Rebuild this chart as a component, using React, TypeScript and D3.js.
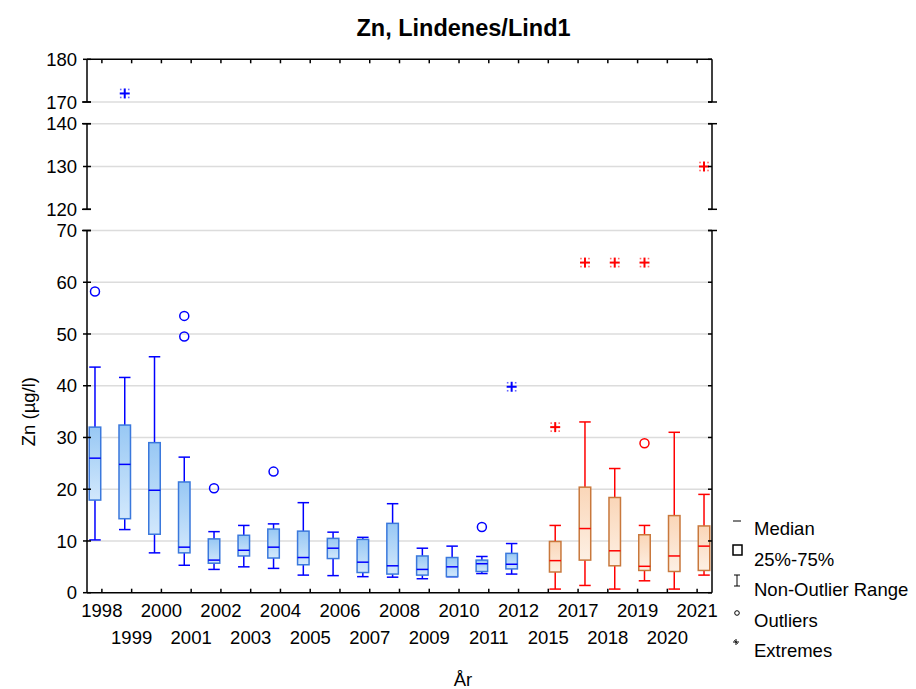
import React from 'react';
import * as d3 from 'd3';

const years = ['1998', '1999', '2000', '2001', '2002', '2003', '2004', '2005', '2006', '2007', '2008', '2009', '2010', '2011', '2012', '2015', '2017', '2018', '2019', '2020', '2021'];
// 'b' = blue series (left slot), 'r' = red series (right slot)
const groups = ['b', 'b', 'b', 'b', 'b', 'b', 'b', 'b', 'b', 'b', 'b', 'b', 'b', 'b', 'b', 'r', 'r', 'r', 'r', 'r', 'r'];
const whiskerLow = [10.2, 12.2, 7.7, 5.3, 4.5, 5.0, 4.7, 3.4, 3.3, 3.1, 3.0, 2.7, 3.1, 3.7, 3.6, 0.7, 1.4, 0.7, 2.3, 0.7, 3.4];
const q1 = [17.9, 14.3, 11.3, 7.7, 5.7, 7.1, 6.7, 5.4, 6.6, 3.9, 3.6, 3.4, 3.1, 4.1, 4.6, 4.0, 6.3, 5.2, 4.3, 4.1, 4.3];
const median = [26.0, 24.8, 19.8, 8.8, 6.3, 8.2, 8.8, 6.8, 8.6, 5.9, 5.2, 4.5, 5.0, 5.6, 5.5, 6.2, 12.4, 8.1, 5.1, 7.1, 9.0];
const q3 = [32.0, 32.4, 29.0, 21.4, 10.4, 11.1, 12.3, 11.9, 10.5, 10.3, 13.4, 7.1, 6.8, 6.3, 7.6, 9.9, 20.4, 18.4, 11.2, 14.9, 12.9];
const whiskerHigh = [43.6, 41.6, 45.6, 26.2, 11.8, 13.0, 13.3, 17.4, 11.7, 10.7, 17.2, 8.6, 9.0, 7.0, 9.5, 13.0, 33.0, 24.0, 13.0, 31.0, 19.0];
const outliers: number[][] = [[58.2], [], [], [53.5, 49.5], [20.2], [], [23.4], [], [], [], [], [], [], [12.7], [], [], [], [], [28.9], [], []];
const extremes: number[][] = [[], [172], [], [], [], [], [], [], [], [], [], [], [], [], [39.8], [32], [63.8], [63.8], [63.8], [], [130]];

const topTicks = [170, 180];
const midTicks = [120, 130, 140];
const botTicks = [0, 10, 20, 30, 40, 50, 60, 70];
const gridValues = [170, 140, 130, 70, 60, 50, 40, 30, 20, 10];
const legendItems = ['Median', '25%-75%', 'Non-Outlier Range', 'Outliers', 'Extremes'];

const W = 916;
const H = 689;
const left = 87;
const right = 712;
const top = 59.3;
const bottom = 592.7;

const yTop = d3.scaleLinear().domain([170, 180]).range([102, top]);
const yMid = d3.scaleLinear().domain([120, 140]).range([209.3, 123.7]);
const yBot = d3.scaleLinear().domain([0, 70]).range([bottom, 230.5]);
const y = (v: number) => (v >= 165 ? yTop(v) : v >= 100 ? yMid(v) : yBot(v));

const x = d3.scaleBand<string>().domain(years).range([left, right]).padding(0);
const cx = (yr: string) => (x(yr) as number) + x.bandwidth() / 2;

const colors = {
  b: { line: '#0000ff', edge: '#3a78dc', g1: '#98c8f4', g2: '#d2e8fc', median: '#0000ff' },
  r: { line: '#ff0000', edge: '#c8783c', g1: '#fad6b8', g2: '#fdf0e4', median: '#ff0000' },
};

const font = '"Liberation Sans", Arial, sans-serif';
const fs = 18.5;

const Star = ({ px, py, color }: { px: number; py: number; color: string }) => (
  <g>
    <line x1={px - 5} x2={px + 5} y1={py} y2={py} stroke={color} strokeWidth={2} />
    <line x1={px} x2={px} y1={py - 5} y2={py + 5} stroke={color} strokeWidth={2} />
    {[[-1, -1], [1, -1], [-1, 1], [1, 1]].map(([dx, dy], i) => (
      <rect key={i} x={px + dx * 4 - 0.8} y={py + dy * 4 - 0.8} width={1.6} height={1.6} fill={color} opacity={0.6} />
    ))}
  </g>
);

export default function App() {
  const boxW = 11.5;
  const off = 6.9;
  const segments: [number, number][] = [[yTop(180), yTop(170)], [yMid(140), yMid(120)], [yBot(70), yBot(0)]];
  const caps = [yTop(170), yMid(140), yMid(120), yBot(70)];

  return (
    <svg width={W} height={H} style={{ position: 'absolute', left: 0, top: 0 }} fontFamily={font}>
      <defs>
        {(['b', 'r'] as const).map((k) => (
          <linearGradient key={k} id={`grad-${k}`} x1="0" y1="0" x2="0" y2="1">
            <stop offset="0%" stopColor={colors[k].g1} />
            <stop offset="100%" stopColor={colors[k].g2} />
          </linearGradient>
        ))}
      </defs>
      <rect width={W} height={H} fill="#fff" />

      {/* grid */}
      {gridValues.map((v) => (
        <line key={v} x1={left} x2={right} y1={y(v)} y2={y(v)} stroke="#dcdcdc" strokeWidth={1.5} />
      ))}

      {/* boxes */}
      {years.map((yr, i) => {
        const g = groups[i] as 'b' | 'r';
        const c = colors[g];
        const px = cx(yr) + (g === 'b' ? -off : off);
        return (
          <g key={yr}>
            <line x1={px} x2={px} y1={y(whiskerHigh[i])} y2={y(q3[i])} stroke={c.line} strokeWidth={1.5} />
            <line x1={px} x2={px} y1={y(q1[i])} y2={y(whiskerLow[i])} stroke={c.line} strokeWidth={1.5} />
            <line x1={px - boxW / 2} x2={px + boxW / 2} y1={y(whiskerHigh[i])} y2={y(whiskerHigh[i])} stroke={c.line} strokeWidth={1.5} />
            <line x1={px - boxW / 2} x2={px + boxW / 2} y1={y(whiskerLow[i])} y2={y(whiskerLow[i])} stroke={c.line} strokeWidth={1.5} />
            <rect x={px - boxW / 2} y={y(q3[i])} width={boxW} height={y(q1[i]) - y(q3[i])} fill={`url(#grad-${g})`} stroke={c.edge} strokeWidth={1.5} />
            <line x1={px - boxW / 2} x2={px + boxW / 2} y1={y(median[i])} y2={y(median[i])} stroke={c.median} strokeWidth={1.5} />
            {outliers[i].map((v, j) => (
              <circle key={j} cx={px} cy={y(v)} r={4.5} fill="none" stroke={c.line} strokeWidth={1.5} />
            ))}
            {extremes[i].map((v, j) => (
              <Star key={j} px={px} py={y(v)} color={c.line} />
            ))}
          </g>
        );
      })}

      {/* frame */}
      <line x1={left} x2={right} y1={top} y2={top} stroke="#000" strokeWidth={1.5} />
      <line x1={left} x2={right} y1={bottom} y2={bottom} stroke="#000" strokeWidth={1.5} />
      {segments.map(([a, b], i) => (
        <g key={i}>
          <line x1={left} x2={left} y1={a} y2={b} stroke="#000" strokeWidth={1.5} />
          <line x1={right} x2={right} y1={a} y2={b} stroke="#000" strokeWidth={1.5} />
        </g>
      ))}
      {caps.map((cy, i) => (
        <g key={i}>
          <line x1={left - 5} x2={left + 4} y1={cy} y2={cy} stroke="#000" strokeWidth={1.5} />
          <line x1={right - 4} x2={right + 5} y1={cy} y2={cy} stroke="#000" strokeWidth={1.5} />
        </g>
      ))}
      {[...topTicks, ...midTicks, ...botTicks].map((v) => (
        <g key={v}>
          <line x1={left - 4} x2={left + 4} y1={y(v)} y2={y(v)} stroke="#000" strokeWidth={1.5} />
          <line x1={right - 4} x2={right} y1={y(v)} y2={y(v)} stroke="#000" strokeWidth={1.5} />
          <text x={left - 10} y={y(v)} dy="0.36em" textAnchor="end" fontSize={fs}>{v}</text>
        </g>
      ))}
      {years.map((yr, i) => (
        <g key={yr}>
          <line x1={cx(yr)} x2={cx(yr)} y1={top} y2={top + 4} stroke="#000" strokeWidth={1.5} />
          <line x1={cx(yr)} x2={cx(yr)} y1={bottom} y2={bottom - 4} stroke="#000" strokeWidth={1.5} />
          <text x={cx(yr)} y={i % 2 === 0 ? 617 : 644} textAnchor="middle" fontSize={fs}>{yr}</text>
        </g>
      ))}

      {/* titles */}
      <text x={463.5} y={36} textAnchor="middle" fontSize={23.5} fontWeight="bold">Zn, Lindenes/Lind1</text>
      <text x={463} y={686} textAnchor="middle" fontSize={fs}>År</text>
      <text transform={`translate(35,${(yBot(0) + yBot(70)) / 2}) rotate(-90)`} textAnchor="middle" fontSize={fs}>Zn (µg/l)</text>

      {/* legend */}
      {legendItems.map((t, i) => (
        <text key={t} x={754} y={535 + i * 30.5} fontSize={fs}>{t}</text>
      ))}
      <line x1={733} x2={741} y1={521} y2={521} stroke="#000" strokeWidth={1} />
      <rect x={733} y={545} width={9} height={10} fill="none" stroke="#000" strokeWidth={1.5} />
      <line x1={737} x2={737} y1={575} y2={586} stroke="#000" strokeWidth={1} />
      <line x1={734} x2={740} y1={575} y2={575} stroke="#000" strokeWidth={1} />
      <line x1={734} x2={740} y1={586} y2={586} stroke="#000" strokeWidth={1} />
      <circle cx={737} cy={613} r={2.3} fill="none" stroke="#000" strokeWidth={1} />
      <g>
        <line x1={733} x2={739} y1={642} y2={642} stroke="#000" strokeWidth={1} />
        <line x1={736} x2={736} y1={639} y2={645} stroke="#000" strokeWidth={1} />
        <line x1={734} x2={738} y1={640} y2={644} stroke="#000" strokeWidth={0.7} />
      </g>
    </svg>
  );
}
